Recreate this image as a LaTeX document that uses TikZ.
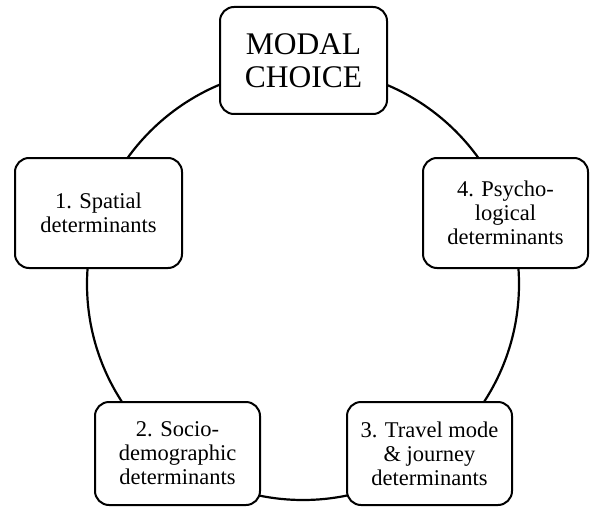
\documentclass[tikz,border=0pt]{standalone}
\usepackage{fontspec}
\setmainfont{Liberation Serif}

\tikzset{
  determ/.style = {draw, fill = white, rounded corners = 14pt, line width = 2pt,
                   minimum width = 165pt, minimum height = 110pt, align = center,
                   inner sep = 2pt, font = \rmfamily\fontsize{22.5}{24}\selectfont},
}

\begin{document}
\begin{tikzpicture}[x = 1pt, y = -1pt]
    \useasboundingbox (0,0) rectangle (591,508);

    % the ring behind the boxes
    \draw [line width = 2.2pt] (303,284) circle [radius = 216pt];

    % top
    \node [determ, minimum width = 167pt, minimum height = 107pt,
           font = \rmfamily\fontsize{31.5}{33}\selectfont] (modal) at (303.5,60.5) {MODAL\\CHOICE};

    % left and right
    \node [determ, minimum width = 167pt] (spatial) at (98.5,213) {1. Spatial\\determinants};
    \node [determ] (psycho) at (505.5,213) {4. Psycho-\\logical\\determinants};

    % bottom
    \node [determ, minimum height = 103pt] (socio) at (177.5,453.5) {2. Socio-\\demographic\\determinants};
    \node [determ, minimum height = 103pt] (travel) at (429.5,453.5) {3. Travel mode\\\& journey\\determinants};
\end{tikzpicture}
\end{document}
